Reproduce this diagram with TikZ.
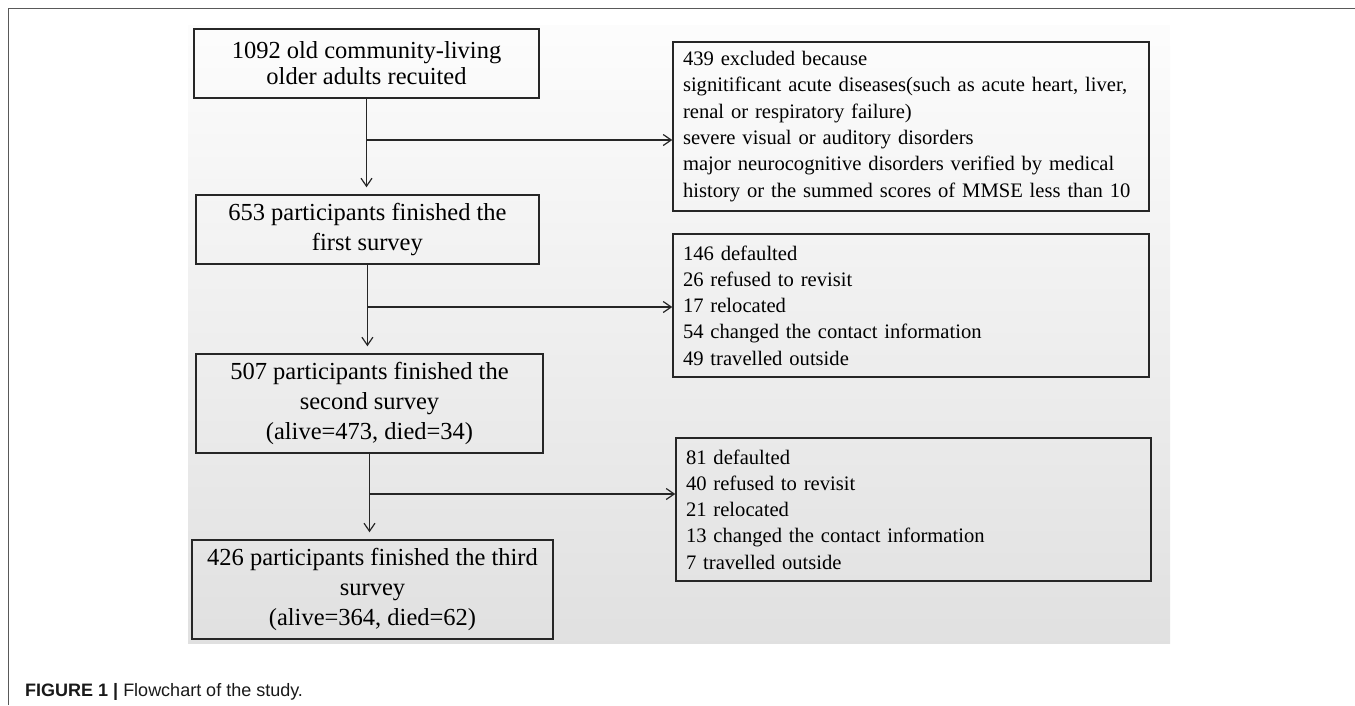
\documentclass[tikz,border=0pt]{standalone}
\usepackage{fontspec}
\setmainfont{Liberation Serif}
\setsansfont{Liberation Sans}
\usetikzlibrary{arrows.meta}
\begin{document}
\begin{tikzpicture}[x=1pt,y=-1pt,
  box/.style={draw=black!85, line width=1.5pt, align=center, inner sep=0pt,
    font=\fontsize{24.5pt}{30pt}\selectfont},
  exbox/.style={draw=black!85, line width=1.5pt, align=left, inner xsep=10pt, inner ysep=0pt,
    font=\fontsize{20.6pt}{26.3pt}\selectfont},
  arr/.style={draw=black!85, line width=1.2pt, -{Straight Barb[length=8pt,width=11pt]}},
  frame/.style={draw=black!65, line width=1.6pt}]
\useasboundingbox (0,0) rectangle (1355,705);
% outer frame (top and left rules)
\draw[frame] (8.3,705) -- (8.3,8.3) -- (1355,8.3);
% gradient background
\fill[top color=white!99!black, bottom color=black!12] (188,25) rectangle (1170,643);
% main boxes
\node[box, minimum width=345pt, minimum height=69pt, font=\fontsize{24.5pt}{26pt}\selectfont]
  (b1) at (366.5,63.5) {1092 old community-living\\older adults recuited};
\node[box, minimum width=343pt, minimum height=69pt] (b2) at (367.4,229.5)
  {653 participants finished the\\first survey};
\node[box, minimum width=347pt, minimum height=99pt] (b3) at (369.5,403.5)
  {507 participants finished the\\second survey\\(alive=473, died=34)};
\node[box, minimum width=361pt, minimum height=99pt] (b4) at (372.5,589.5)
  {426 participants finished the third\\survey\\(alive=364, died=62)};
% exclusion boxes
\node[exbox, minimum width=476pt, minimum height=169pt, text width=456pt] (e1) at (911,126.5)
  {439 excluded because\\
   signitificant acute diseases(such as acute heart, liver,\\
   renal or respiratory failure)\\
   severe visual or auditory disorders\\
   major neurocognitive disorders verified by medical\\
   history or the summed scores of MMSE less than 10};
\node[exbox, minimum width=476pt, minimum height=143pt, text width=456pt] (e2) at (911,305.5)
  {146 defaulted\\
   26 refused to revisit\\
   17 relocated\\
   54 changed the contact information\\
   49 travelled outside};
\node[exbox, minimum width=475pt, minimum height=143pt, text width=455pt] (e3) at (913.5,509.5)
  {81 defaulted\\
   40 refused to revisit\\
   21 relocated\\
   13 changed the contact information\\
   7 travelled outside};
% junction heights
\coordinate (j1) at (0,140);
\coordinate (j2) at (0,307);
\coordinate (j3) at (0,494);
% connectors
\draw[arr, shorten >=7pt] (b1.south) -- (b1.south |- b2.north);
\draw[arr] (b1.south |- j1) -- (j1 -| e1.west);
\draw[arr, shorten >=7pt] (b2.south) -- (b2.south |- b3.north);
\draw[arr] (b2.south |- j2) -- (j2 -| e2.west);
\draw[arr, shorten >=7pt] (b3.south) -- (b3.south |- b4.north);
\draw[arr] (b3.south |- j3) -- (j3 -| e3.west);
% caption
\node[anchor=base west, inner sep=0pt, text=black!90, font=\fontsize{18pt}{20pt}\sffamily]
  (cap) at (25,696.5) {\bfseries FIGURE 1 | \mdseries Flowchart of the study.};
\end{tikzpicture}
\end{document}
